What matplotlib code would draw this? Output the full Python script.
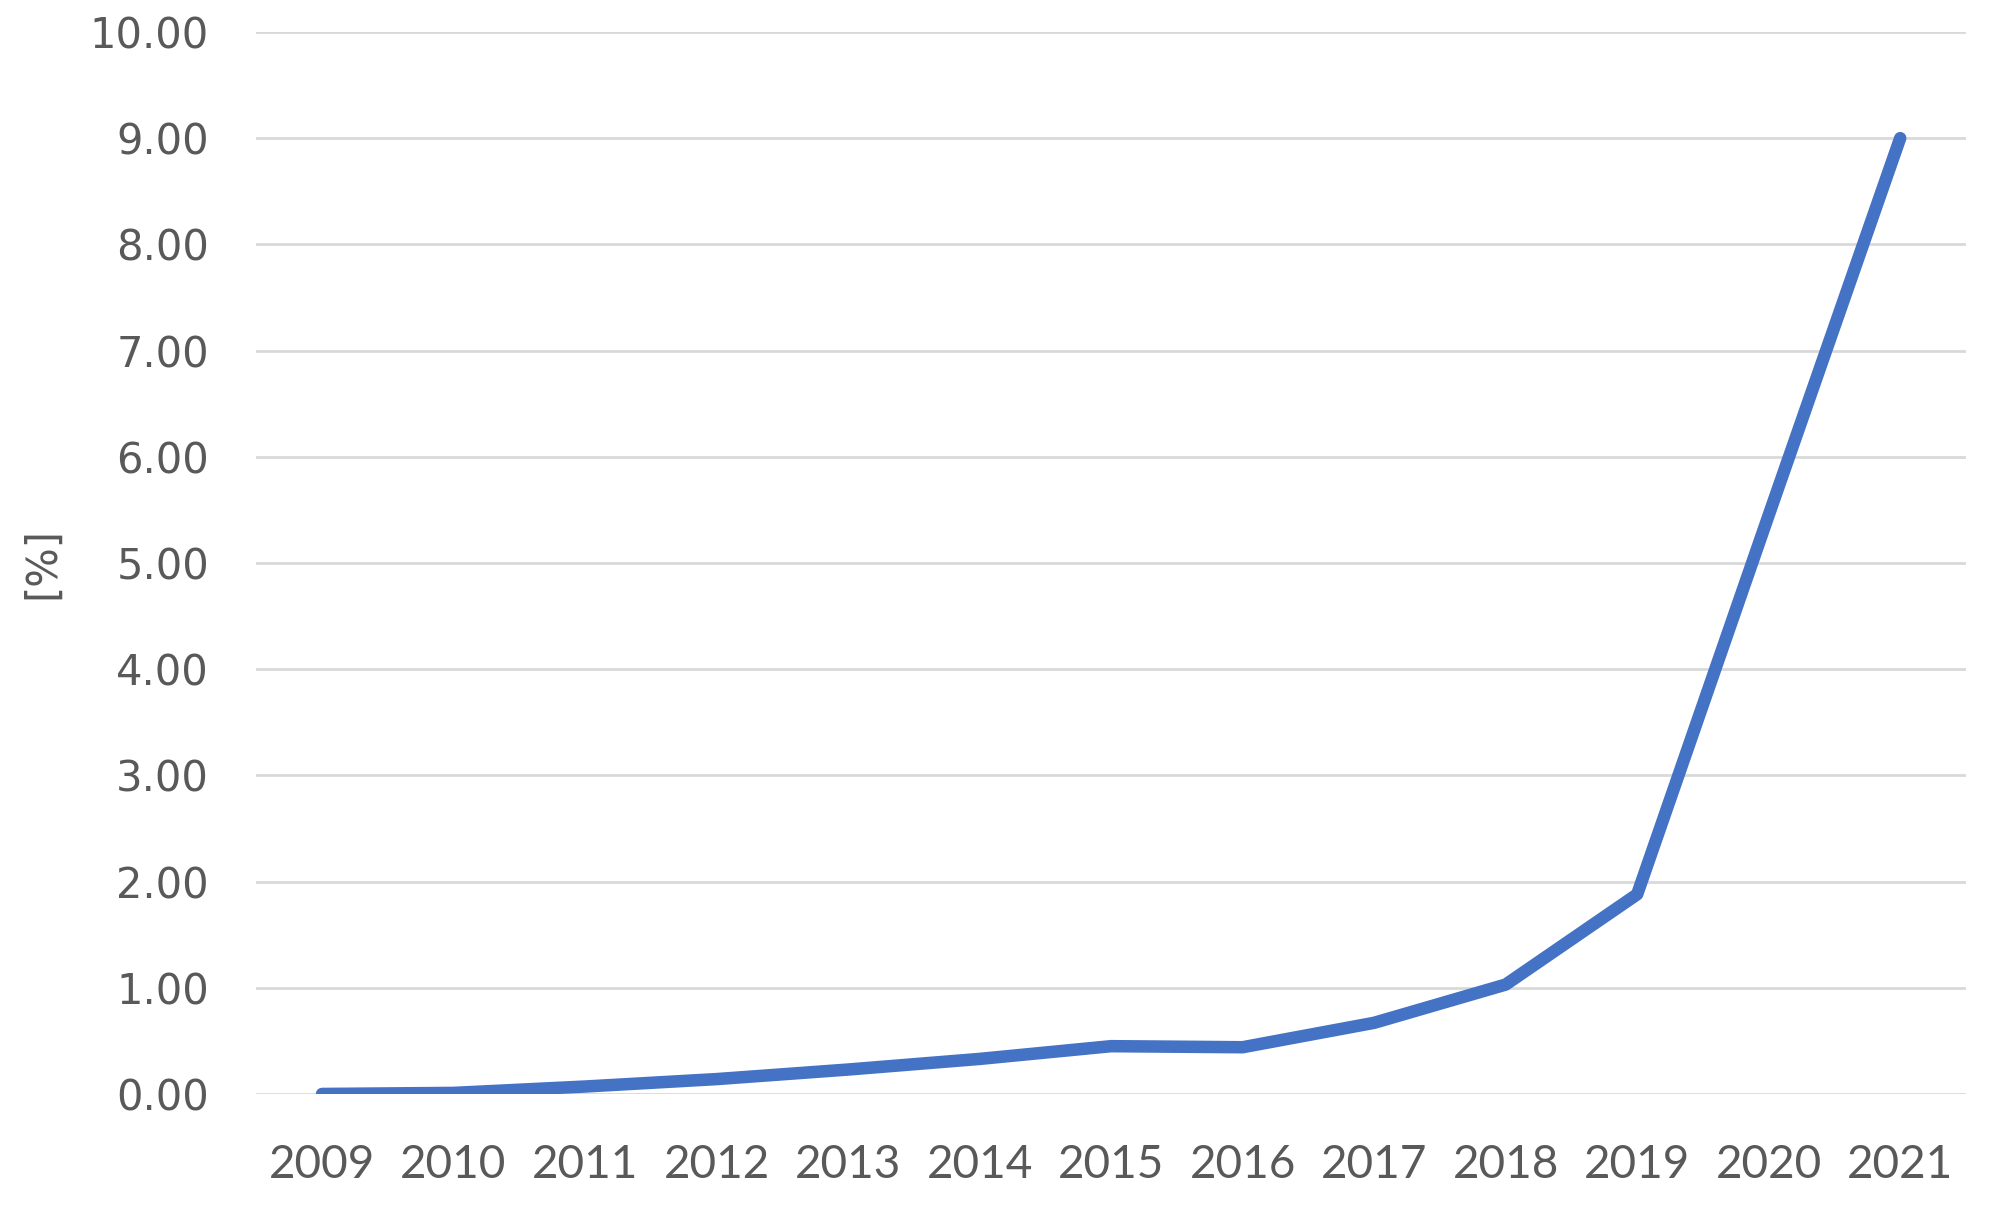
import matplotlib.pyplot as plt
import numpy as np

years = ["2009", "2010", "2011", "2012", "2013", "2014", "2015",
         "2016", "2017", "2018", "2019", "2020", "2021"]
share = [0.00, 0.01, 0.07, 0.14, 0.23, 0.33, 0.45,
         0.44, 0.67, 1.03, 1.88, 5.45, 9.00]
yticks = [0, 1, 2, 3, 4, 5, 6, 7, 8, 9, 10]

LINE_BLUE = "#4472C4"
GRID = "#D9D9D9"
TEXT = "#595959"

fig = plt.figure(figsize=(20.02, 12.06), dpi=100)
ax = fig.add_axes([0.128, 0.0929, 0.854, 0.8806])

x = np.arange(len(years))
ax.plot(x, share, color=LINE_BLUE, linewidth=9, solid_capstyle="round",
        solid_joinstyle="round", zorder=3)

ax.set_xlim(-0.5, len(years) - 0.5)
ax.set_ylim(0, 10)
ax.set_yticks(yticks)
ax.set_yticklabels([f"{v:.2f}" for v in yticks], fontsize=30, color=TEXT,
                   family=["DejaVu Sans"])
ax.set_xticks(x)
ax.set_xticklabels(years, fontsize=33, color=TEXT,
                   family=["Liberation Sans Narrow", "Lato"])
ax.tick_params(axis="both", length=0)
ax.tick_params(axis="y", pad=34)
ax.tick_params(axis="x", pad=36)

ax.grid(axis="y", color=GRID, linewidth=2)
ax.set_axisbelow(True)
for side in ["top", "right", "left", "bottom"]:
    ax.spines[side].set_visible(False)

# axis title sits close to the left edge, like the original
fig.text(0.021, 0.533, "[%]", rotation=90, fontsize=30, color=TEXT,
         ha="center", va="center")

fig.savefig("out.png", dpi=100, facecolor="white")
